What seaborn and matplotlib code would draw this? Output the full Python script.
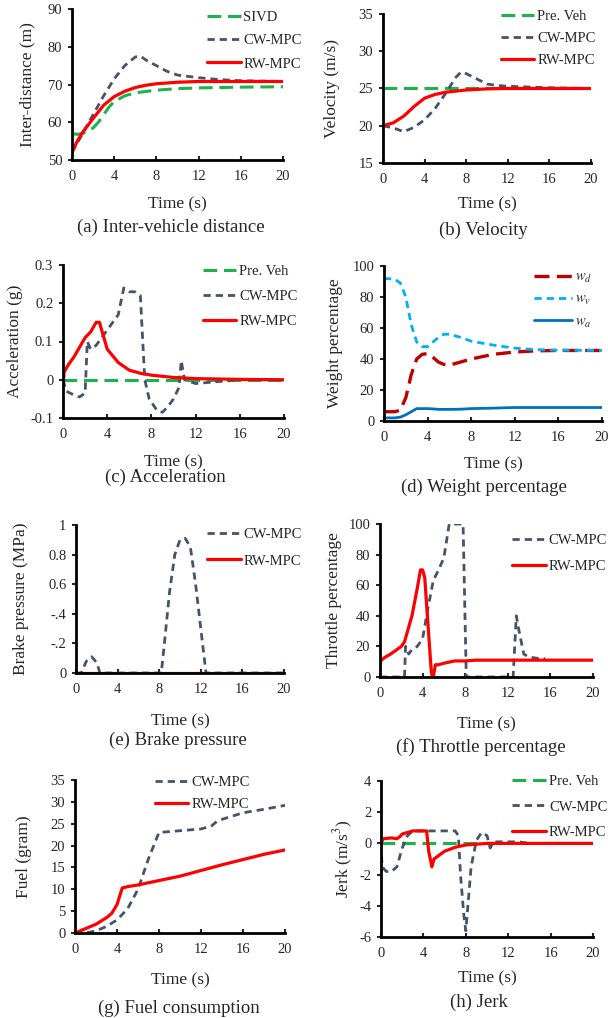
import numpy as np
import pandas as pd
import seaborn as sns
import matplotlib
matplotlib.use('Agg')
import matplotlib.pyplot as plt

# data
# (a) inter-vehicle distance
t_sivd = [0, 0.5, 1, 1.5, 2, 2.5, 3, 3.5, 4, 5, 6, 8, 10, 12, 14, 16, 20]
d_sivd = [57, 56.8, 57, 57.7, 58.5, 60, 62, 64, 65.5, 67, 67.8, 68.5, 68.9, 69.1, 69.2, 69.3, 69.4]
t_d_cw = [0, 1, 2, 3, 4, 5, 6, 6.5, 7, 8, 9, 10, 12, 14, 16, 20]
d_cw = [52, 57, 62, 67, 71.5, 75, 77.3, 77.5, 76.5, 75, 73.5, 72.5, 71.8, 71.3, 71, 70.8]
t_d_rw = [0, 0.5, 1, 2, 3, 4, 5, 6, 7, 8, 10, 12, 20]
d_rw = [52, 55, 57.3, 61, 64.5, 66.8, 68.2, 69.2, 69.8, 70.2, 70.6, 70.8, 70.8]

# (b) velocity
t_v_pre = [0, 20]
v_pre = [25, 25]
t_v_cw = [0, 1, 2, 3, 4, 5, 6, 7, 7.5, 8, 9, 10, 11, 12, 14, 16, 20]
v_cw = [20, 19.7, 19.2, 19.8, 20.8, 22.3, 24.3, 26.5, 27.2, 27, 26.3, 25.6, 25.4, 25.3, 25.2, 25.1, 25]
t_v_rw = [0, 1, 2, 3, 4, 5, 6, 8, 10, 12, 20]
v_rw = [20, 20.4, 21.3, 22.6, 23.7, 24.2, 24.5, 24.8, 24.95, 25, 25]

# (c) acceleration
t_a_pre = [0, 20]
a_pre = [0, 0]
t_a_cw = [0, 0.3, 1, 1.5, 2, 2.2, 2.5, 3, 3.5, 4, 4.5, 5, 5.5, 6, 6.5, 7, 7.4, 7.8, 8.5, 9,
          9.5, 10, 10.5, 10.7, 11, 12, 14, 16, 19.5]
a_cw = [0, -0.03, -0.04, -0.045, -0.035, 0.1, 0.08, 0.09, 0.11, 0.13, 0.15, 0.17, 0.24, 0.23, 0.23,
        0.22, 0.0, -0.05, -0.08, -0.085, -0.07, -0.05, -0.02, 0.05, 0.0, -0.01, -0.005, 0, 0]
t_a_rw = [0, 0.1, 0.5, 1, 2, 2.5, 3, 3.3, 3.7, 4, 5, 6, 7, 8, 10, 12, 16, 20]
a_rw = [-0.02, 0.02, 0.04, 0.06, 0.11, 0.125, 0.15, 0.15, 0.11, 0.08, 0.045, 0.025, 0.017, 0.012,
        0.006, 0.003, 0.001, 0]

# (d) weight percentage
t_w = [0, 1, 1.5, 2, 2.5, 3, 3.5, 4, 4.5, 5, 5.5, 6, 7, 8, 10, 12, 14, 16, 20]
w_d = [6, 6, 7, 15, 30, 40, 43, 43.5, 41, 38, 36.5, 36, 38, 40, 43, 44.5, 45.3, 45.5, 45.5]
w_v = [92, 91.5, 89, 80, 62, 51, 48, 48, 51, 54, 56, 56, 54, 51.5, 49, 47, 46, 45.7, 45.5]
w_a = [2, 2, 2.5, 4, 6, 8, 8, 8, 7.8, 7.5, 7.5, 7.5, 7.6, 8, 8.3, 8.7, 8.7, 8.7, 8.7]

# (e) brake pressure
t_b_cw = [0, 0.5, 1, 1.5, 2, 2.3, 8.2, 8.5, 9, 9.5, 10, 10.5, 11, 11.5, 12, 12.5, 20]
b_cw = [0, 0, 0.08, 0.11, 0.07, 0, 0, 0.2, 0.55, 0.8, 0.9, 0.91, 0.85, 0.6, 0.3, 0, 0]
t_b_rw = [0, 20]
b_rw = [0, 0]

# (f) throttle percentage
t_th_cw = [0, 2.3, 2.4, 2.7, 3, 3.5, 4, 4.5, 5, 5.5, 6, 6.5, 7.8, 8.1, 12.5, 12.8, 13, 13.5, 14, 15, 15.5]
th_cw = [0, 0, 20, 15, 18, 20, 25, 45, 63, 70, 78, 100, 100, 0, 0, 40, 32, 15, 13, 12, 12]
t_th_rw = [0, 0.1, 0.5, 1, 2, 2.3, 3, 3.5, 3.8, 4, 4.2, 4.5, 4.8, 4.9, 5, 5.2, 5.5, 6, 7, 8, 9, 20]
th_rw = [8, 11, 13, 15, 20, 23, 40, 58, 70, 70, 65, 35, 5, 0, 0, 8, 8, 9, 10.5, 10.5, 11, 11]

# (g) fuel consumption
t_f_cw = [0, 1, 2, 3, 4, 5, 6, 7, 8, 9, 10, 12, 13, 13.5, 14, 16, 18, 20]
f_cw = [0, 0, 0.5, 1.5, 3, 5.5, 10, 17, 23, 23.2, 23.4, 23.8, 24.5, 25.5, 26, 27.5, 28.3, 29.2]
t_f_rw = [0, 1, 2, 3, 3.5, 4, 4.5, 5, 6, 8, 10, 12, 14, 16, 18, 20]
f_rw = [0, 1, 2, 3.5, 4.5, 6.5, 10.3, 10.6, 11, 12, 13, 14.3, 15.6, 16.8, 18, 19]

# (h) jerk
t_j_pre = [0, 20]
j_pre = [0, 0]
t_j_cw = [0, 0.1, 0.5, 1, 1.5, 2, 2.5, 3, 4, 5, 6, 7, 7.3, 7.5, 7.8, 8, 8.2, 8.5, 9, 9.5, 10,
          10.3, 10.6, 11, 12, 13, 14]
j_cw = [0, -1.5, -1.8, -1.8, -1.5, -0.3, 0.5, 0.8, 0.8, 0.8, 0.8, 0.8, 0.5, -2, -4.5, -5.6, -4,
        -1.5, 0.2, 0.7, 0.5, -0.3, 0.1, 0.1, 0.1, 0.1, 0]
t_j_rw = [0, 0.2, 1, 1.5, 1.8, 2, 3, 4, 4.3, 4.5, 4.8, 5, 6, 7, 8, 10, 20]
j_rw = [0, 0.3, 0.35, 0.3, 0.45, 0.6, 0.8, 0.8, 0.8, -0.5, -1.5, -1.0, -0.5, -0.25, -0.1, 0, 0]

sns.set_style('ticks')
plt.rcParams['font.family'] = ['Liberation Serif', 'DejaVu Serif']
plt.rcParams['mathtext.fontset'] = 'stix'

GREEN = '#1db24b'
SLATE = '#44546a'
RED = '#ff0000'

STY = {
    'pre': dict(color=GREEN, linestyle=(0, (4.5, 2.2)), linewidth=2.2),
    'cw': dict(color=SLATE, linestyle=(0, (2.6, 1.8)), linewidth=2.0),
    'rw': dict(color=RED, linestyle='-', linewidth=2.3),
    'wd': dict(color='#c00000', linestyle=(0, (4.5, 2.2)), linewidth=2.4),
    'wv': dict(color='#00b0f0', linestyle=(0, (2.6, 1.8)), linewidth=2.0),
    'wa': dict(color='#0070c0', linestyle='-', linewidth=2.0),
}

W, H = 608, 1018
fig = plt.figure(figsize=(W / 100, H / 100), dpi=100)


def make_ax(left, top, right, bottom):
    return fig.add_axes([left / W, 1 - bottom / H, (right - left) / W, (bottom - top) / H])


def draw(ax, series):
    for t, v, key, lab in series:
        df = pd.DataFrame({'t': t, 'v': v})
        sns.lineplot(data=df, x='t', y='v', ax=ax, estimator=None, sort=False,
                     label=lab, legend=False, **STY[key])


def style(ax, ylabel, ylim, yticks, yticklabels, caption, cap_xy, leg_xy,
          spacing=0.55, hl=2.3, xpad=6, ypad=3):
    ax.set_xlim(0, 20)
    ax.set_xticks(range(0, 21, 4))
    ax.set_ylim(*ylim)
    ax.set_yticks(yticks)
    ax.set_yticklabels(yticklabels)
    ax.set_xlabel('Time (s)', fontsize=12.5, labelpad=xpad)
    ax.set_ylabel(ylabel, fontsize=12.5, labelpad=ypad)
    sns.despine(ax=ax)
    for s in ['left', 'bottom']:
        ax.spines[s].set_linewidth(2)
        ax.spines[s].set_color('black')
    ax.tick_params(axis='x', direction='in', length=3, width=1.5, pad=7, labelsize=10.5)
    ax.tick_params(axis='y', direction='out', length=3, width=1.5, pad=4, labelsize=10.5)
    ax.grid(False)
    ax.legend(loc='upper left', bbox_to_anchor=leg_xy, frameon=False, fontsize=10.5,
              handlelength=hl, handletextpad=0.2, labelspacing=spacing,
              borderpad=0, borderaxespad=0)
    fig.text(cap_xy[0] / W, 1 - cap_xy[1] / H, caption, ha='center', va='center', fontsize=13.5)


# (a)
ax = make_ax(72, 9, 283, 160)
draw(ax, [(t_sivd, d_sivd, 'pre', 'SIVD'), (t_d_cw, d_cw, 'cw', 'CW-MPC'), (t_d_rw, d_rw, 'rw', 'RW-MPC')])
style(ax, 'Inter-distance (m)', (50, 90), [50, 60, 70, 80, 90], ['50', '60', '70', '80', '90'],
      '(a) Inter-vehicle distance', (171, 227), (0.64, 0.99), spacing=0.7, xpad=9.5, ypad=9)

# (b)
ax = make_ax(383, 14, 591, 163)
draw(ax, [(t_v_pre, v_pre, 'pre', 'Pre. Veh'), (t_v_cw, v_cw, 'cw', 'CW-MPC'), (t_v_rw, v_rw, 'rw', 'RW-MPC')])
style(ax, 'Velocity (m/s)', (15, 35), [15, 20, 25, 30, 35], ['15', '20', '25', '30', '35'],
      '(b) Velocity', (483, 230), (0.567, 1.03), spacing=0.6, xpad=7.5, ypad=13)

# (c)
ax = make_ax(63, 265, 284, 418)
draw(ax, [(t_a_pre, a_pre, 'pre', 'Pre. Veh'), (t_a_cw, a_cw, 'cw', 'CW-MPC'), (t_a_rw, a_rw, 'rw', 'RW-MPC')])
style(ax, 'Acceleration (g)', (-0.1, 0.3), [-0.1, 0, 0.1, 0.2, 0.3], ['-0.1', '0', '0.1', '0.2', '0.3'],
      '(c) Acceleration', (165, 477), (0.633, 1.0), spacing=0.8, xpad=9.5, ypad=5)

# (d)
ax = make_ax(384, 266, 602, 421)
draw(ax, [(t_w, w_d, 'wd', '$w_d$'), (t_w, w_v, 'wv', '$w_v$'), (t_w, w_a, 'wa', '$w_a$')])
style(ax, 'Weight percentage', (0, 100), [0, 20, 40, 60, 80, 100], ['0', '20', '40', '60', '80', '100'],
      '(d) Weight percentage', (484, 487), (0.688, 0.97), spacing=0.55, hl=2.6, xpad=9, ypad=6.5)

# (e)
ax = make_ax(76, 525, 284, 673)
draw(ax, [(t_b_cw, b_cw, 'cw', 'CW-MPC'), (t_b_rw, b_rw, 'rw', 'RW-MPC')])
style(ax, 'Brake pressure (MPa)', (0, 1), [0, 0.2, 0.4, 0.6, 0.8, 1], ['0', '-.2', '-.4', '0.6', '0.8', '1'],
      '(e) Brake pressure', (178, 740), (0.63, 0.98), spacing=0.9, xpad=13, ypad=14)

# (f)
ax = make_ax(380, 524, 593, 677)
draw(ax, [(t_th_cw, th_cw, 'cw', 'CW-MPC'), (t_th_rw, th_rw, 'rw', 'RW-MPC')])
style(ax, 'Throttle percentage', (0, 100), [0, 20, 40, 60, 80, 100], ['0', '20', '40', '60', '80', '100'],
      '(f) Throttle percentage', (481, 747), (0.62, 0.935), spacing=0.9, xpad=12, ypad=4.5)

# (g)
ax = make_ax(75, 780, 285, 933)
draw(ax, [(t_f_cw, f_cw, 'cw', 'CW-MPC'), (t_f_rw, f_rw, 'rw', 'RW-MPC')])
style(ax, 'Fuel (gram)', (0, 35), list(range(0, 36, 5)), [str(v) for v in range(0, 36, 5)],
      '(g) Fuel consumption', (179, 1008), (0.38, 1.026), spacing=0.6, xpad=12, ypad=13)

# (h)
ax = make_ax(381, 781, 593, 937)
draw(ax, [(t_j_pre, j_pre, 'pre', 'Pre. Veh'), (t_j_cw, j_cw, 'cw', 'CW-MPC'), (t_j_rw, j_rw, 'rw', 'RW-MPC')])
style(ax, 'Jerk (m/s$^3$)', (-6, 4), [-6, -4, -2, 0, 2, 4], ['-6', '-4', '-2', '0', '2', '4'],
      '(h) Jerk', (479, 1002), (0.62, 1.04), spacing=0.85, xpad=8, ypad=3)

fig.savefig('out.png', dpi=100)
